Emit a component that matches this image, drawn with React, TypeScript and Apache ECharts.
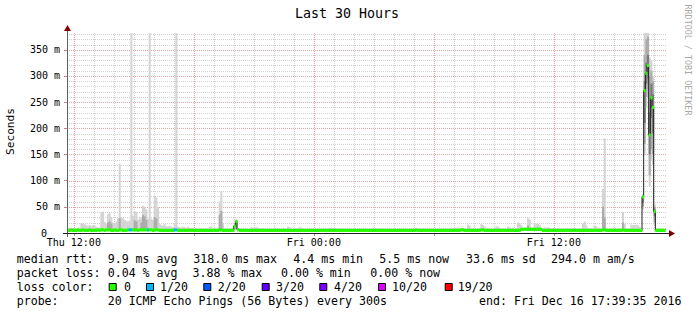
import React, { useEffect, useRef } from 'react';
import * as echarts from 'echarts';

// ---- time base (hours since Thu 00:00) ----
const START_HOUR = 11 + 39 / 60 + 35 / 3600; // Thu 11:39:35
const STEP_HOURS = 5 / 60; // 300 s
const SPAN_HOURS = 30;

// ---- axis ticks ----
const xTickValues = [12, 24, 36];
const xTickLabels = ['Thu 12:00', 'Fri 00:00', 'Fri 12:00'];
const xMajorGrid = [12, 18, 24, 30, 36];
const xMinorGrid = [13, 14, 15, 16, 17, 19, 20, 21, 22, 23, 25, 26, 27, 28, 29, 31, 32, 33, 34, 35, 37, 38, 39, 40, 41];
const yTickValues = [0, 50, 100, 150, 200, 250, 300, 350];
const yMajorGrid = [50, 100, 150, 200, 250, 300, 350];
const yMinorGrid = [10, 20, 30, 40, 60, 70, 80, 90, 110, 120, 130, 140, 160, 170, 180, 190, 210, 220, 230, 240, 260, 270, 280, 290, 310, 320, 330, 340, 360, 370, 380];
const Y_MAX = 382;

// ---- data (ms), one value per 300 s step ----
const median: (number | null)[] = [
  5, 5, 6, 5, 5, 5, 6, 5, 5, 6, 5, 5, 5, 6, 5, 5, 5, 5, 6, 5, 6, 6, 5, 6, 6, 6, 5, 5, 6, 5,
  5, 6, 6, 5, 5, 5, 6, 6, 6, 6, 6, 6, 5, 6, 6, 6, 6, 6, 6, 6, 6, 5, 6, 6, 6, 5, 5, 5, 5, 5,
  5, 5, 5, 5, 6, 6, 5, 5, 5, 5, 5, 5, 5, 5, 5, 5, 5, 5, 5, 5, 5, 5, 5, 5, 5, 5, 5, 5, 5, 5,
  5, 6, 6, 5, 5, 5, 5, 5, 5, 5, 13, 22, 6, 5, 5, 5, 5, 5, 5, 5, 5, 5, 5, 5, 5, 5, 5, 5, 5, 5,
  5, 5, 5, 5, 5, 5, 5, 5, 5, 5, 5, 5, 5, 5, 5, 5, 5, 5, 5, 5, 5, 5, 5, 5, 5, 5, 5, 5, 5, 5,
  5, 5, 5, 5, 5, 5, 5, 5, 5, 5, 5, 5, 5, 5, 5, 5, 5, 5, 5, 5, 5, 5, 5, 5, 5, 5, 5, 5, 5, 5,
  5, 5, 5, 5, 5, 5, 5, 5, 5, 5, 5, 5, 5, 5, 5, 5, 5, 5, 5, 5, 5, 5, 5, 5, 5, 5, 5, 5, 5, 6,
  5, 5, 5, 5, 5, 5, 5, 5, 5, 5, 5, 5, 5, 5, 5, 5, 5, 5, 5, 5, 5, 5, 5, 5, 5, 5, 6, 6, 5, 5,
  5, 5, 5, 5, 5, 5, 5, 5, 6, 6, 5, 5, 5, 5, 5, 5, 5, 5, 5, 5, 5, 5, 5, 5, 5, 5, 5, 5, 5, 5,
  5, 5, 7, 7, 7, 7, 7, 7, 7, 7, 7, 7, 7, 7, 7, 5, 5, 5, 5, 5, 5, 5, 5, 5, 5, 5, 5, 5, 5, 5,
  5, 5, 5, 5, 5, 5, 5, 5, 5, 5, 5, 5, 5, 5, 5, 5, 5, 5, 5, 5, 5, 6, 6, 5, 5, 5, 5, 5, 5, 5,
  5, 5, 5, 6, 5, 5, 5, 5, 5, 5, 5, 5, 5, 5, 5, 69, 272, 305, 320, 187, 258, 240, 41, 5, 5, 5, 5, 5, 5, null,
];

const smokeHigh: (number | null)[] = [
  9, 10, 9, 9, 10, 9, 10, 10, 19, 18, 17, 15, 14, 15, 13, 15, 14, 12, 10, 11, 40, 41, 21, 18, 36, 38, 30, 20, 18, 22,
  28, 132, 30, 28, 25, 23, 22, 24, 384, 33, 42, 40, 25, 28, 30, 52, 50, 45, 27, 384, 27, 24, 71, 68, 50, 17, 15, 14, 17, 13,
  12, 14, 12, 11, 18, 384, 12, 11, 10, 12, 11, 10, 12, 10, 9, 10, 8, 9, 8, 8, 9, 8, 8, 9, 8, 12, 12, 8, 9, 8,
  9, 60, 80, 20, 8, 9, 8, 8, 9, 10, 18, 26, 10, 8, 8, 8, 8, 8, 8, 8, 11, 10, 11, 11, 10, 9, 8, 8, 8, 8,
  8, 8, 8, 8, 8, 9, 8, 8, 8, 8, 8, 8, 12, 11, 8, 8, 8, 8, 8, 11, 10, 8, 8, 8, 8, 8, 8, 8, 8, 8,
  8, 8, 8, 8, 8, 8, 8, 10, 10, 9, 8, 8, 8, 8, 8, 8, 8, 8, 8, 8, 8, 8, 8, 8, 8, 8, 8, 8, 8, 8,
  8, 8, 8, 8, 8, 8, 8, 8, 8, 8, 8, 8, 8, 8, 8, 8, 8, 8, 8, 8, 8, 8, 8, 8, 8, 8, 8, 8, 8, 8,
  8, 8, 8, 8, 8, 8, 8, 8, 8, 8, 8, 8, 8, 8, 8, 8, 8, 8, 8, 8, 9, 9, 8, 10, 9, 8, 9, 10, 9, 8,
  16, 14, 8, 9, 8, 8, 9, 8, 17, 15, 12, 8, 9, 8, 8, 8, 9, 13, 12, 10, 8, 8, 8, 8, 12, 11, 8, 9, 8, 9,
  20, 18, 15, 9, 10, 9, 28, 26, 10, 9, 19, 18, 17, 15, 10, 9, 11, 10, 11, 10, 9, 8, 9, 8, 8, 9, 8, 8, 8, 9,
  8, 9, 8, 8, 9, 8, 8, 8, 9, 18, 22, 15, 9, 8, 8, 8, 14, 13, 9, 8, 9, 84, 181, 9, 8, 8, 9, 8, 8, 8,
  9, 8, 9, 40, 18, 9, 8, 8, 16, 15, 14, 16, 15, 12, 8, 75, 384, 384, 384, 335, 330, 300, 55, 8, 8, 8, 8, 8, 8, null,
];

const smokeLow: (number | null)[] = [
  4, 4, 4, 4, 4, 4, 4, 4, 4, 4, 4, 4, 4, 4, 4, 4, 4, 4, 4, 4, 4, 4, 4, 4, 4, 4, 4, 4, 4, 4,
  4, 4, 4, 4, 4, 4, 4, 4, 4, 4, 4, 4, 4, 4, 4, 4, 4, 4, 4, 4, 4, 4, 4, 4, 4, 4, 4, 4, 4, 4,
  4, 4, 4, 4, 4, 4, 4, 4, 4, 4, 4, 4, 4, 4, 4, 4, 4, 4, 4, 4, 4, 4, 4, 4, 4, 4, 4, 4, 4, 4,
  4, 4, 4, 4, 4, 4, 4, 4, 4, 4, 5, 8, 4, 4, 4, 4, 4, 4, 4, 4, 4, 4, 4, 4, 4, 4, 4, 4, 4, 4,
  4, 4, 4, 4, 4, 4, 4, 4, 4, 4, 4, 4, 4, 4, 4, 4, 4, 4, 4, 4, 4, 4, 4, 4, 4, 4, 4, 4, 4, 4,
  4, 4, 4, 4, 4, 4, 4, 4, 4, 4, 4, 4, 4, 4, 4, 4, 4, 4, 4, 4, 4, 4, 4, 4, 4, 4, 4, 4, 4, 4,
  4, 4, 4, 4, 4, 4, 4, 4, 4, 4, 4, 4, 4, 4, 4, 4, 4, 4, 4, 4, 4, 4, 4, 4, 4, 4, 4, 4, 4, 4,
  4, 4, 4, 4, 4, 4, 4, 4, 4, 4, 4, 4, 4, 4, 4, 4, 4, 4, 4, 4, 4, 4, 4, 4, 4, 4, 4, 4, 4, 4,
  4, 4, 4, 4, 4, 4, 4, 4, 4, 4, 4, 4, 4, 4, 4, 4, 4, 4, 4, 4, 4, 4, 4, 4, 4, 4, 4, 4, 4, 4,
  4, 4, 4, 4, 4, 4, 4, 4, 4, 4, 4, 4, 4, 4, 4, 4, 4, 4, 4, 4, 4, 4, 4, 4, 4, 4, 4, 4, 4, 4,
  4, 4, 4, 4, 4, 4, 4, 4, 4, 4, 4, 4, 4, 4, 4, 4, 4, 4, 4, 4, 4, 4, 4, 4, 4, 4, 4, 4, 4, 4,
  4, 4, 4, 4, 4, 4, 4, 4, 4, 4, 4, 4, 4, 4, 4, 45, 150, 240, 260, 90, 140, 130, 15, 4, 4, 4, 4, 4, 4, null,
];

// denser smoke bands: [step index, low ms, high ms]
const smokeMid: [number, number, number][] = [
  [24, 6, 20], [25, 6, 22], [26, 6, 18], [31, 6, 28], [40, 6, 24], [41, 6, 22], [44, 6, 20], [45, 6, 34],
  [46, 6, 32], [47, 6, 25], [52, 6, 30], [53, 6, 28], [91, 6, 35], [92, 6, 42], [100, 5, 15], [101, 8, 20],
  [276, 6, 14], [321, 6, 50], [322, 6, 30], [333, 6, 20], [345, 50, 72], [346, 170, 340], [347, 260, 370],
  [348, 275, 375], [349, 110, 300], [350, 160, 310], [351, 150, 290], [352, 20, 50],
];
const smokeCore: [number, number, number][] = [
  [345, 58, 70], [346, 210, 290], [347, 285, 325], [348, 295, 340],
  [349, 150, 230], [350, 220, 285], [351, 190, 265], [352, 32, 45],
];

// packet loss: [step index, loss level index]
const lossSteps: [number, number][] = [[37, 1], [38, 1], [48, 1], [64, 1], [65, 1]];
const lossLabels = ['0', '1/20', '2/20', '3/20', '4/20', '10/20', '19/20'];
const lossColors = ['#26ff00', '#00b8ff', '#0059ff', '#5e00ff', '#7e00ff', '#dd00ff', '#ff0000'];

// ---- legend text ----
const legendRow1 = ['median rtt:', '9.9 ms avg', '318.0 ms max', '4.4 ms min', '5.5 ms now', '33.6 ms sd', '294.0 m am/s'];
const legendRow2 = ['packet loss:', '0.04 % avg', '3.88 % max', '0.00 % min', '0.00 % now'];
const legendRow3 = ['loss color:'];
const legendRow4 = ['probe:', '20 ICMP Echo Pings (56 Bytes) every 300s', 'end: Fri Dec 16 17:39:35 2016'];
const titleText = 'Last 30 Hours';
const yAxisTitle = 'Seconds';
const watermark = 'RRDTOOL / TOBI OETIKER';

const MONO = '"DejaVu Sans Mono", "Liberation Mono", monospace';

function buildOption() {
  const times = median.map((_, i) => START_HOUR + i * STEP_HOURS);
  const lossByStep: number[] = median.map(() => 0);
  lossSteps.forEach(([i, l]) => { lossByStep[i] = l; });

  const outerData = times.map((t, i) => [t, smokeLow[i] ?? '-', smokeHigh[i] ?? '-']);
  const midData = smokeMid.map(([i, lo, hi]) => [times[i], lo, hi]);
  const coreData = smokeCore.map(([i, lo, hi]) => [times[i], lo, hi]);
  const medianRectData = times.map((t, i) => [t, median[i] ?? '-', lossByStep[i]]);
  const medianLineData = times.map((t, i) => [t, median[i] ?? '-']);

  const bandItem = (color: string) => (params: any, api: any) => {
    const t = api.value(0), lo = api.value(1), hi = api.value(2);
    if (isNaN(lo) || isNaN(hi)) return null;
    const p0 = api.coord([t, lo]);
    const p1 = api.coord([t + STEP_HOURS, Math.min(hi, Y_MAX)]);
    return {
      type: 'rect',
      shape: { x: p0[0], y: p1[1], width: p1[0] - p0[0] + 0.4, height: p0[1] - p1[1] },
      style: { fill: color },
      silent: true,
    };
  };

  const medianItem = (params: any, api: any) => {
    const t = api.value(0), m = api.value(1), l = api.value(2);
    if (isNaN(m)) return null;
    const p0 = api.coord([t, m]);
    const p1 = api.coord([t + STEP_HOURS, m]);
    return {
      type: 'rect',
      shape: { x: p0[0], y: p0[1] - 1.6, width: p1[0] - p0[0] + 0.4, height: 3.2 },
      style: { fill: lossColors[l] },
      silent: true,
    };
  };

  const vGrid = (color: string) => (params: any, api: any) => {
    const cs = params.coordSys;
    const x = Math.round(api.coord([api.value(0), 0])[0]) + 0.5;
    return {
      type: 'line',
      shape: { x1: x, y1: cs.y, x2: x, y2: cs.y + cs.height },
      style: { stroke: color, lineWidth: 1, lineDash: [1, 1] },
      silent: true,
    };
  };
  const hGrid = (color: string) => (params: any, api: any) => {
    const cs = params.coordSys;
    const y = Math.round(api.coord([START_HOUR, api.value(1)])[1]) + 0.5;
    return {
      type: 'line',
      shape: { x1: cs.x, y1: y, x2: cs.x + cs.width, y2: y },
      style: { stroke: color, lineWidth: 1, lineDash: [1, 1] },
      silent: true,
    };
  };

  const GL = 67, GT = 33, GW = 600, GH = 200;
  const axisBottom = GT + GH;
  const text = (x: number, y: number, s: string, size: number, extra: any = {}) => ({
    type: 'text', x, y, silent: true,
    style: { text: s, fill: '#000', font: `${size}px ${MONO}`, align: 'left', verticalAlign: 'middle', ...extra },
  });

  const legendY = [259, 273, 287, 301];
  const row1X = [16.7, 107.7, 193.3, 293.3, 379.3, 466, 551];
  const row2X = [16.7, 107.7, 192.5, 281, 370.3];
  const row4X = [16.7, 107.7, 479];
  const boxX = [108.7, 146, 203.3, 261.7, 319.3, 378, 444.7];
  const boxTextX = [124, 160, 217.7, 276, 334, 392, 457.7];
  const LF = 11.6;

  const graphics: any[] = [];
  graphics.push(text(347, 13.5, titleText, 13.3, { align: 'center' }));
  graphics.push({ ...text(10.5, 131.5, yAxisTitle, 11.2, { align: 'center' }), rotation: Math.PI / 2 });
  graphics.push({ ...text(688, 60, watermark, 8.4, { align: 'center', fill: '#a8a8a8' }), rotation: -Math.PI / 2 });
  legendRow1.forEach((s, k) => graphics.push(text(row1X[k], legendY[0], s, LF)));
  legendRow2.forEach((s, k) => graphics.push(text(row2X[k], legendY[1], s, LF)));
  legendRow3.forEach((s) => graphics.push(text(16.7, legendY[2], s, LF)));
  lossLabels.forEach((s, k) => {
    graphics.push({
      type: 'rect', silent: true,
      shape: { x: boxX[k] + 0.5, y: legendY[2] - 3.5, width: 7, height: 7 },
      style: { fill: lossColors[k], stroke: '#000', lineWidth: 1 },
    });
    graphics.push(text(boxTextX[k], legendY[2], s, LF));
  });
  legendRow4.forEach((s, k) => graphics.push(text(row4X[k], legendY[3], s, LF)));

  // axis lines and arrows
  graphics.push({ type: 'line', silent: true, z: 10, shape: { x1: GL + 0.5, y1: axisBottom + 4, x2: GL + 0.5, y2: GT - 3 }, style: { stroke: '#606060', lineWidth: 1 } });
  graphics.push({ type: 'line', silent: true, z: 10, shape: { x1: GL - 4, y1: axisBottom + 0.5, x2: GL + GW + 2, y2: axisBottom + 0.5 }, style: { stroke: '#202020', lineWidth: 1 } });
  graphics.push({ type: 'polygon', silent: true, z: 10, shape: { points: [[GL + 0.5, GT - 8], [GL - 3, GT - 2], [GL + 4, GT - 2]] }, style: { fill: '#800000' } });
  graphics.push({ type: 'polygon', silent: true, z: 10, shape: { points: [[GL + GW + 8, axisBottom + 0.5], [GL + GW + 2, axisBottom - 3], [GL + GW + 2, axisBottom + 4]] }, style: { fill: '#800000' } });

  return {
    animation: false,
    backgroundColor: '#ffffff',
    grid: { left: GL, top: GT, width: GW, height: GH, containLabel: false },
    xAxis: {
      type: 'value',
      min: START_HOUR,
      max: START_HOUR + SPAN_HOURS,
      axisLine: { show: false },
      splitLine: { show: false },
      axisTick: { show: true, customValues: xMajorGrid, length: 3, lineStyle: { color: '#d08080' } },
      axisLabel: {
        customValues: xTickValues,
        formatter: (v: number) => xTickLabels[xTickValues.indexOf(Math.round(v))] ?? '',
        fontFamily: MONO, fontSize: 10, color: '#000', margin: 4,
      },
    },
    yAxis: {
      type: 'value',
      min: 0,
      max: Y_MAX,
      interval: 50,
      axisLine: { show: false },
      splitLine: { show: false },
      axisTick: { show: true, customValues: yTickValues, length: 3, lineStyle: { color: '#d08080' } },
      axisLabel: {
        customValues: yTickValues,
        formatter: (v: number) => (v === 0 ? '{z|0}' : `${v} m`),
        fontFamily: MONO, fontSize: 10, color: '#000', margin: 7,
        rich: { z: { fontFamily: MONO, fontSize: 10, color: '#000', padding: [0, 13, 0, 0] } },
      },
    },
    graphic: graphics,
    series: [
      { type: 'custom', name: 'minorX', z: 1, data: xMinorGrid.map((h) => [h, 0]), renderItem: vGrid('#d0d0d0'), silent: true },
      { type: 'custom', name: 'minorY', z: 1, data: yMinorGrid.map((v) => [START_HOUR, v]), renderItem: hGrid('#d0d0d0'), silent: true },
      { type: 'custom', name: 'majorX', z: 1, data: xMajorGrid.map((h) => [h, 0]), renderItem: vGrid('#eba0a0'), silent: true },
      { type: 'custom', name: 'majorY', z: 1, data: yMajorGrid.map((v) => [START_HOUR, v]), renderItem: hGrid('#eba0a0'), silent: true },
      { type: 'custom', name: 'smoke', z: 2, clip: true, data: outerData, renderItem: bandItem('#d4d4d4'), silent: true },
      { type: 'custom', name: 'smokeMid', z: 2, clip: true, data: midData, renderItem: bandItem('#ababab'), silent: true },
      { type: 'custom', name: 'smokeCore', z: 2, clip: true, data: coreData, renderItem: bandItem('#7a7a7a'), silent: true },
      {
        type: 'line', name: 'median line', z: 3, step: 'end', symbol: 'none', data: medianLineData,
        lineStyle: { color: '#202020', width: 1 }, silent: true, connectNulls: false,
      },
      { type: 'custom', name: 'median', z: 4, clip: true, data: medianRectData, renderItem: medianItem, silent: true },
    ],
  };
}

export default function App() {
  const ref = useRef<HTMLDivElement>(null);
  useEffect(() => {
    if (!ref.current) return;
    const chart = echarts.init(ref.current, null, { renderer: 'svg' });
    chart.setOption(buildOption() as any);
    return () => chart.dispose();
  }, []);
  return (
    <div
      ref={ref}
      style={{ position: 'fixed', left: 0, top: 0, width: 697, height: 315, background: '#ffffff' }}
    />
  );
}
